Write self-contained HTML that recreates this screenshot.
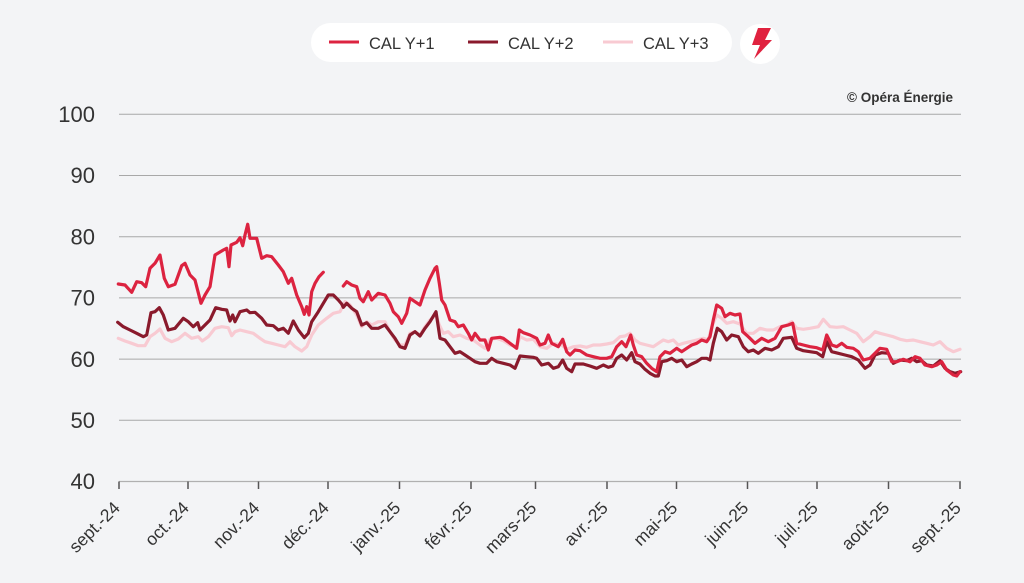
<!DOCTYPE html>
<html>
<head>
<meta charset="utf-8">
<style>
  html,body{margin:0;padding:0;background:#f3f4f6;}
  body{width:1024px;height:583px;overflow:hidden;font-family:"Liberation Sans",sans-serif;}
  svg{display:block;}
</style>
</head>
<body>
<svg width="1024" height="583" viewBox="0 0 1024 583" xmlns="http://www.w3.org/2000/svg">
  <rect x="0" y="0" width="1024" height="583" fill="#f3f4f6"/>

  <!-- Legend -->
  <rect x="311" y="23" width="421" height="39" rx="19.5" fill="#ffffff"/>
  <line x1="329" y1="42" x2="359" y2="42" stroke="#dc2340" stroke-width="3"/>
  <text x="369" y="49" font-size="16.5" fill="#333" font-family="Liberation Sans, sans-serif">CAL Y+1</text>
  <line x1="468" y1="42" x2="498" y2="42" stroke="#8a1a2c" stroke-width="3"/>
  <text x="508" y="49" font-size="16.5" fill="#333" font-family="Liberation Sans, sans-serif">CAL Y+2</text>
  <line x1="603" y1="42" x2="633" y2="42" stroke="#f8cad2" stroke-width="3"/>
  <text x="643" y="49" font-size="16.5" fill="#333" font-family="Liberation Sans, sans-serif">CAL Y+3</text>
  <circle cx="760" cy="44" r="20" fill="#ffffff"/>
  <polygon points="758,28 771,28 765,40 772,40 754,59 760,45 752,45" fill="#e0223f"/>

  <!-- Copyright -->
  <text x="953" y="102" font-size="13.5" font-weight="bold" fill="#333" text-anchor="end" font-family="Liberation Sans, sans-serif">© Opéra Énergie</text>

  <!-- Gridlines -->
  <g stroke="#a8a8a8" stroke-width="1">
    <line x1="119" y1="114.3" x2="961" y2="114.3"/>
    <line x1="119" y1="175.5" x2="961" y2="175.5"/>
    <line x1="119" y1="236.7" x2="961" y2="236.7"/>
    <line x1="119" y1="297.9" x2="961" y2="297.9"/>
    <line x1="119" y1="359.1" x2="961" y2="359.1"/>
    <line x1="119" y1="420.3" x2="961" y2="420.3"/>
  </g>
  <line x1="119" y1="481.5" x2="961" y2="481.5" stroke="#b0b0b0" stroke-width="1.2"/>

  <!-- Y labels -->
  <g font-size="22" fill="#333" text-anchor="end" font-family="Liberation Sans, sans-serif">
    <text x="95" y="122">100</text>
    <text x="95" y="183">90</text>
    <text x="95" y="244.5">80</text>
    <text x="95" y="305.5">70</text>
    <text x="95" y="367">60</text>
    <text x="95" y="428">50</text>
    <text x="95" y="489">40</text>
  </g>

  <!-- X ticks -->
  <g stroke="#555" stroke-width="1.5">
    <line x1="119" y1="481.5" x2="119" y2="489"/>
    <line x1="188" y1="481.5" x2="188" y2="489"/>
    <line x1="258.5" y1="481.5" x2="258.5" y2="489"/>
    <line x1="328" y1="481.5" x2="328" y2="489"/>
    <line x1="399.5" y1="481.5" x2="399.5" y2="489"/>
    <line x1="471" y1="481.5" x2="471" y2="489"/>
    <line x1="535.5" y1="481.5" x2="535.5" y2="489"/>
    <line x1="607" y1="481.5" x2="607" y2="489"/>
    <line x1="676.5" y1="481.5" x2="676.5" y2="489"/>
    <line x1="747.5" y1="481.5" x2="747.5" y2="489"/>
    <line x1="817" y1="481.5" x2="817" y2="489"/>
    <line x1="888.5" y1="481.5" x2="888.5" y2="489"/>
    <line x1="960" y1="481.5" x2="960" y2="489"/>
  </g>

  <!-- X labels -->
  <g font-size="17.5" fill="#333" text-anchor="end" font-family="Liberation Sans, sans-serif">
    <text transform="translate(121,509) rotate(-45)">sept.-24</text>
    <text transform="translate(190,509) rotate(-45)">oct.-24</text>
    <text transform="translate(260.5,509) rotate(-45)">nov.-24</text>
    <text transform="translate(330,509) rotate(-45)">déc.-24</text>
    <text transform="translate(401.5,509) rotate(-45)">janv.-25</text>
    <text transform="translate(473,509) rotate(-45)">févr.-25</text>
    <text transform="translate(537.5,509) rotate(-45)">mars-25</text>
    <text transform="translate(609,509) rotate(-45)">avr.-25</text>
    <text transform="translate(678.5,509) rotate(-45)">mai-25</text>
    <text transform="translate(749.5,509) rotate(-45)">juin-25</text>
    <text transform="translate(819,509) rotate(-45)">juil.-25</text>
    <text transform="translate(890.5,509) rotate(-45)">août-25</text>
    <text transform="translate(962,509) rotate(-45)">sept.-25</text>
  </g>

  <!-- Series -->
  <g fill="none" stroke-width="3.2" stroke-linejoin="round" stroke-linecap="round">
    <!-- CAL Y+3 -->
    <polyline stroke="#f8cad2" points="
      118.3,338.3 125,341 131.7,343.3 138.3,345.7 145,345.7 150,336.7 155,333.3 160,329 165,338.3 171.7,341.7
      178.3,339 185,333.3 191.7,338.3 198.3,336.7 202.3,341 208.3,336.7 215,328.3 221.7,326.7 228.3,327.7 231.7,335.7
      235,331.7 240,330 246.7,331.7 253.3,333.3 260,338.3 265,341.7 271.7,343.3 278.3,345 285,346.7 290,341.7
      295,346.7 301.7,351 306.7,346.7 311.7,335 318.3,325 326.7,318.3 333.3,313.3 340,311.7 345,301.7 350,305
      356.7,315 361.7,326.7 366.7,321.7 371.7,325 378.3,321.7 385,321.7 390,331.7 395,340 400,345 405,345
      410,333.3 415,331.7 420,335 425,326.7 430,320 436,315 439.3,325 443.3,333.3 448.3,331.7 453.3,336.7
      460,335 466.7,338.3 473.3,340 480,345 485,348.3 490,339.3 496.7,338.3 503.3,340.7 510,345 516.7,346.7
      520,336.7 526.7,340 533.3,339.3 540,346.7 546.7,348.3 553.3,343.3 561.7,345 566.7,349.3 573.3,346.7
      580,346 586.7,347.3 593.3,345 600,345 606.7,344 613.3,342.7 620,336.7 625,336 630,333.3 635,340
      640,343.3 646.7,345 653.3,346.7 658.3,343.3 663.3,340 668.3,341.7 673.3,340 678.3,345 683.3,343.3
      690,341.7 696.7,340 703.3,338.3 708.3,340 711.7,326.7 716.7,315 721.7,318.3 726.7,323.3 733.3,321.7
      740,324 746.7,333.3 753.3,333.3 760,328.3 766.7,330 773.3,330 780,326.7 786.7,325 791.7,321.7
      796.7,328.3 803.3,329.3 810,328.3 818.3,326.7 823.3,319.3 830,326.7 836.7,327.3 843.3,326.7 850,330
      856.7,333.3 863.3,341.7 870,336.7 875,331.7 880,333.3 886.7,335 893.3,336.7 900,339.3 906.7,340.7
      913.3,340 920,341.7 926.7,343.3 933.3,345 940,341.7 946.7,348.3 953.3,351.7 960,349.3"/>
    <!-- CAL Y+2 -->
    <polyline stroke="#8a1a2c" points="
      117.7,322.3 123.3,326.7 130,330 136.7,333.3 143.3,336.7 146.7,335 151,312.7 155,311.7 159.3,307.7 163.3,315
      168.3,330 175,328.3 183.3,318.3 188.3,321.7 193.3,326.7 197.7,322.7 200,330 205,325 210,320 215.7,307.7
      221.7,309.3 226.7,310 230,321 232.7,315 235,321.7 240,311.7 246.7,310 250,312.7 255,312.3 261.7,318.3
      266.7,325 273.3,325.7 278.3,330 283.3,328.3 288.3,333.3 293.3,321 298.3,330 304.3,337.7 308.3,333.3
      311.7,321.7 318.3,311.7 323.3,303.3 328.3,295 333.3,295 338.3,300 341.7,304 343.3,307.3 346.7,303.3
      351.7,308.3 356.7,311.7 361.7,325 366.7,322.7 371.7,328.3 378.3,328.3 385,325 390,331.7 395,338.3
      400,346.7 405,348.3 410,335 415,331.7 420,336 425,328.3 430,321.7 436,311.7 440,338.3 445,340 450,346.7
      455,353.3 460,351.7 465,355 470,358.3 475,361.7 480,363.3 486.7,363.3 491.7,358.3 496.7,361.7 503.3,363.3
      510,365 515,368.3 520,356 526.7,356.7 533.3,357.3 536.7,358.3 541.7,365 548.3,363.3 553.3,368.3
      558.3,366.7 562.7,360 566.7,368.3 571.7,371.7 575,364 583.3,364 590,366 596.7,368.3 603.3,365
      608.3,367.3 612.7,366 616.7,358.3 621.7,355 626.7,360 631.7,352.7 635,361.7 640,364 645,369.3 650,373.3
      655,376 658.3,376 661.7,361.7 666.7,360.7 671.7,358.3 676.7,361.7 681.7,360 686.7,366.7 691.7,364
      696.7,361.7 701.7,358.3 706.7,358.3 710,360 713.3,343.3 717.3,328.3 721.7,331.7 726.7,340 731.7,335
      738.3,336.7 743.3,346.7 748.3,351.7 753.3,350 758.3,353.3 765,348.3 771.7,350 778.3,346.7 783.3,338.3
      791.7,337.3 796.7,348.3 803.3,350.7 810,351.7 816.7,352.7 822.7,356.7 826.7,341.7 831.7,351.7 838.3,353.3
      845,355 851.7,356.7 858.3,360 865,368.3 870,365 875,355 881.7,352.7 888.3,353.3 893.3,363.3 900,360
      906.7,360.7 911.7,358.3 916.7,361.7 921.7,360.7 926.7,365 933.3,366 940,360.7 945,368.3 950,371.7
      955,373.3 960.7,371.7"/>
    <!-- CAL Y+1 -->
    <polyline stroke="#dc2340" points="
      118.3,284 125,285 131.7,292.3 136.7,281.7 141.7,282.7 145.7,286.7 150,268.3 155,263.3 160,255 164.3,278.3
      168.3,286.7 175,284.3 181.7,265.7 185,263.3 190,275 195,280 201,303.3 205,295 210,286.7 215,255
      223.3,250 226.7,248.3 229,266.7 231,245 236.7,242.3 240,237.7 242.7,245.7 245,235 247.7,224.3 250,238.3
      256.7,238.3 261.7,258.3 266.7,255.7 271.7,256.7 278.3,265 283.3,271.7 288.3,283.3 291.7,278.3 296.7,295
      301.7,306.7 304.3,314.3 306.7,306.7 309,315 311.7,291.7 315,283.3 319,276.7 323.3,272.3"/>
    <polyline stroke="#dc2340" points="
      343.3,286 346.7,281.7 351.7,285 356.7,286.7 360,298.3 363.3,301.7 368.3,291.7 371.7,300 378.3,293.3
      385,295 390,303.3 393.3,311.7 398.3,316.7 401.7,323.3 406.7,313.3 410,298.3 415,301.7 420,305 425,290
      430,278.3 435,268.3 436.7,266.7 439.3,283.3 441.7,300 445,305 450,320 455,321.7 458.3,326.7 463.3,325
      468.3,333.3 471.7,340 475,333.3 480,340 485,340 488.3,350 491.7,338.3 500,337.3 503.3,338.3 510,343.3
      516.7,348.3 519.3,330 523.3,332.7 530,335 536.7,338.3 540,345 545,343.3 548.3,335 551.7,343.3 558.3,346.7
      562.7,339.3 566.7,351.7 570,355 575,350 580,350.7 586.7,355 593.3,356.7 600,358.3 606.7,358.3 611.7,356.7
      616.7,346.7 621.7,341.7 626,346.7 630.7,335 633.3,345 636.7,355 641.7,356.7 646.7,363.3 651.7,368.3
      656.7,371.7 660,356.7 665,351.7 670,353.3 676.7,348.3 681.7,351.7 686.7,348.3 691.7,345 696.7,343.3
      701.7,340 706.7,341.7 710,336.7 713.3,320 716.7,305 721.7,308.3 725,316.7 730,313.3 735,315 740,314
      742.7,331.7 748.3,336.7 755,343.3 761.7,338.3 768.3,341.7 775,338.3 781.7,326.7 788.3,325 792.7,323.3
      796.7,343.3 803.3,345 810,346.7 816.7,347.7 822.7,350 826.7,335 831.7,345 836.7,346.7 841.7,343.3
      846.7,347.3 853.3,348.3 858.3,351.7 863.3,360 870,358.3 875,353.3 880,348.3 886.7,349.3 891.7,361.7
      896.7,361.7 903.3,359.3 910,361.7 915,356.7 920,358.3 925,365 931.7,366.7 936.7,365 941.7,361.7
      946.7,370 953.3,375 956.7,376 960,371.7"/>
  </g>
</svg>
</body>
</html>
